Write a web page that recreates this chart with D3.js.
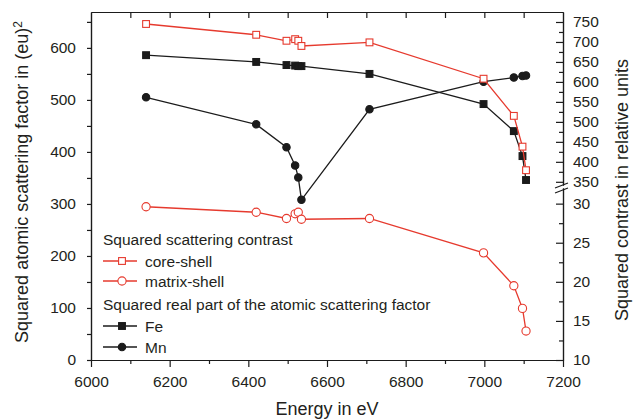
<!DOCTYPE html>
<html>
<head>
<meta charset="utf-8">
<script src="https://cdn.jsdelivr.net/npm/d3@7"></script>
<style>
  body { margin: 0; background: #fff; }
  text { font-family: "Liberation Sans", Arial, Helvetica, sans-serif; fill: #231f20; }
</style>
</head>
<body>
<div id="chart"></div>
<script>
// photon energies (eV), shared by all series
var energy = [6140, 6420, 6497, 6519, 6527, 6535, 6708, 6998, 7075, 7097, 7106];
// squared real part of atomic scattering factor, (eu)^2 -> left axis
var fe = [586, 573, 567, 566, 565, 565, 550, 492, 440, 392, 346];
var mn = [505, 453, 409, 374, 351, 308, 482, 535, 543, 546, 547];
// squared scattering contrast, relative units -> right axis (broken)
var coreShell = [745, 718, 703, 707, 703, 690, 699, 608, 515, 438, 379];
var matrixShell = [29.6, 28.9, 28.1, 28.7, 28.9, 28.0, 28.1, 23.7, 19.5, 16.6, 13.7];

var xTicks = [6000, 6200, 6400, 6600, 6800, 7000, 7200];
var leftTicks = [0, 100, 200, 300, 400, 500, 600];
var rightUpperTicks = [350, 400, 450, 500, 550, 600, 650, 700, 750];
var rightLowerTicks = [10, 15, 20, 25, 30];

var red = "#e63a2e", black = "#1b1b1b";

var margin = {top: 12, right: 75, bottom: 59, left: 91},
    width = 638 - margin.left - margin.right,
    height = 419 - margin.top - margin.bottom;

var svg = d3.select("#chart").append("svg")
    .attr("width", 638).attr("height", 419);
var g = svg.append("g")
    .attr("transform", "translate(" + margin.left + "," + margin.top + ")");

var x = d3.scaleLinear().domain([6000, 7200]).range([0, width]);
var yL = d3.scaleLinear().domain([0, 669]).range([height, 0]);
// right axis has a break between 32 and 342
var yU = d3.scaleLinear().domain([342, 775]).range([173, 0]);
var yD = d3.scaleLinear().domain([10, 32]).range([height, 176]);

function styleAxis(sel) {
  sel.selectAll("path, line").attr("stroke", black).attr("stroke-width", 1.2);
  sel.selectAll("text").style("font-size", "15.5px").attr("fill", "#231f20");
}

// bottom axis
g.append("g").attr("transform", "translate(0," + height + ")")
  .call(d3.axisBottom(x).tickValues(d3.range(6100, 7200, 200)).tickFormat("").tickSize(4).tickSizeOuter(0))
  .call(styleAxis);
g.append("g").attr("transform", "translate(0," + height + ")")
  .call(d3.axisBottom(x).tickValues(xTicks).tickFormat(d3.format("d")).tickSize(7).tickPadding(9).tickSizeOuter(0))
  .call(styleAxis);

// top axis (inward ticks)
g.append("g")
  .call(d3.axisTop(x).tickValues(d3.range(6100, 7200, 100)).tickFormat("").tickSize(-6).tickSizeOuter(0))
  .call(styleAxis);

// left axis
g.append("g")
  .call(d3.axisLeft(yL).tickValues(d3.range(50, 669, 100)).tickFormat("").tickSize(4).tickSizeOuter(0))
  .call(styleAxis);
g.append("g")
  .call(d3.axisLeft(yL).tickValues(leftTicks).tickSize(4).tickPadding(11).tickSizeOuter(0))
  .call(styleAxis);

// right axis, upper part
var rU = g.append("g").attr("transform", "translate(" + width + ",0)");
rU.append("g")
  .call(d3.axisRight(yU).tickValues(d3.range(375, 775, 50)).tickFormat("").tickSize(-4).tickSizeOuter(0))
  .call(styleAxis);
rU.append("g")
  .call(d3.axisRight(yU).tickValues(rightUpperTicks).tickSize(-7).tickPadding(10).tickSizeOuter(0))
  .call(styleAxis);
// right axis, lower part
rU.append("g")
  .call(d3.axisRight(yD).tickValues(d3.range(12.5, 32, 5)).tickFormat("").tickSize(-4).tickSizeOuter(0))
  .call(styleAxis);
rU.append("g")
  .call(d3.axisRight(yD).tickValues(rightLowerTicks).tickSize(-7).tickPadding(10).tickSizeOuter(0))
  .call(styleAxis);

// break marks
[0, 5].forEach(function(off) {
  g.append("line")
    .attr("x1", width - 8).attr("y1", 176 + off)
    .attr("x2", width + 5).attr("y2", 171 + off)
    .attr("stroke", black).attr("stroke-width", 1.2);
});

// axis titles
svg.append("text")
  .attr("x", margin.left + width / 2).attr("y", 415)
  .attr("text-anchor", "middle").style("font-size", "18px")
  .text("Energy in eV");

var lt = svg.append("text")
  .attr("transform", "translate(28,182) rotate(-90)")
  .attr("text-anchor", "middle").style("font-size", "18px");
lt.append("tspan").text("Squared atomic scattering factor in (eu)");
lt.append("tspan").attr("dy", "-0.5em").style("font-size", "12px").text("2");

svg.append("text")
  .attr("transform", "translate(628,190) rotate(-90)")
  .attr("text-anchor", "middle").style("font-size", "18px")
  .text("Squared contrast in relative units");

// series
function drawSeries(vals, scale, color, shape, filled) {
  var pts = energy.map(function(e, i) { return [x(e), scale(vals[i])]; });
  g.append("path")
    .attr("d", d3.line()(pts))
    .attr("fill", "none").attr("stroke", color).attr("stroke-width", 1.3);
  pts.forEach(function(p) { marker(g, p[0], p[1], color, shape, filled); });
}

function marker(sel, cx, cy, color, shape, filled) {
  if (shape === "square") {
    sel.append("rect")
      .attr("x", cx - 3.4).attr("y", cy - 3.4).attr("width", 6.8).attr("height", 6.8)
      .attr("fill", filled ? color : "#fff").attr("stroke", color).attr("stroke-width", 1.1);
  } else {
    sel.append("circle")
      .attr("cx", cx).attr("cy", cy).attr("r", filled ? 3.7 : 4.1)
      .attr("fill", filled ? color : "#fff").attr("stroke", color).attr("stroke-width", 1.1);
  }
}

drawSeries(fe, yL, black, "square", true);
drawSeries(mn, yL, black, "circle", true);
drawSeries(coreShell, yU, red, "square", false);
drawSeries(matrixShell, yD, red, "circle", false);

// legend
var legendItems = [
  {type: "head", label: "Squared scattering contrast", y: 245},
  {type: "item", label: "core-shell", y: 261, color: red, shape: "square", filled: false},
  {type: "item", label: "matrix-shell", y: 281, color: red, shape: "circle", filled: false},
  {type: "head", label: "Squared real part of the atomic scattering factor", y: 310},
  {type: "item", label: "Fe", y: 326, color: black, shape: "square", filled: true},
  {type: "item", label: "Mn", y: 347, color: black, shape: "circle", filled: true}
];
var lg = svg.append("g");
legendItems.forEach(function(d) {
  if (d.type === "head") {
    lg.append("text").attr("x", 103).attr("y", d.y).style("font-size", "15.5px").text(d.label);
  } else {
    lg.append("line").attr("x1", 103).attr("x2", 137).attr("y1", d.y).attr("y2", d.y)
      .attr("stroke", d.color).attr("stroke-width", 1.3);
    marker(lg, 122, d.y, d.color, d.shape, d.filled);
    lg.append("text").attr("x", 145).attr("y", d.y + 5.5).style("font-size", "15.5px").text(d.label);
  }
});
</script>
</body>
</html>
